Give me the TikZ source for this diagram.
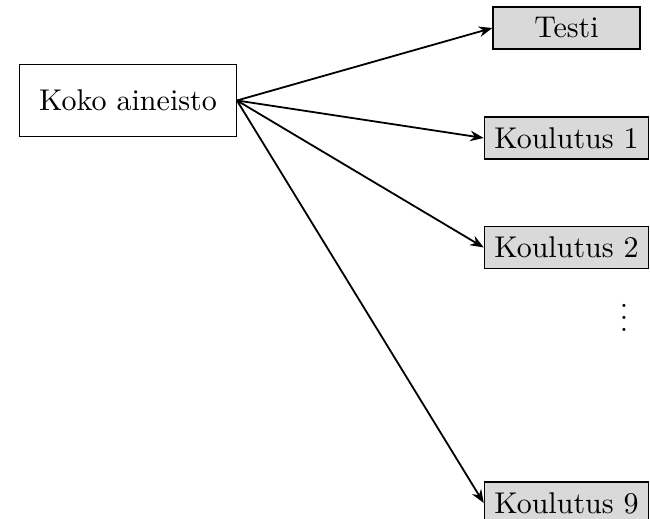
\documentclass[tikz,border=0pt]{standalone}
\usetikzlibrary{arrows.meta}
\begin{document}
\begin{tikzpicture}[x=1pt,y=1pt,
  srcbox/.style={draw, fill=white, inner xsep=6.5pt, inner ysep=8.5pt},
  setbox/.style={draw, fill=black!15, inner sep=3.33pt, minimum height=14pt},
  link/.style={semithick, -{Stealth[length=4.5pt,width=3.5pt]}}]
\useasboundingbox (0,0) rectangle (216.67,-173);
\node[srcbox] (all) at (42.67,-33.5) {Koko aineisto};
\node[setbox, minimum width=49pt] (test) at (188.83,-9.33) {Testi};
\node[setbox] (k1) at (188.83,-46) {Koulutus 1};
\node[setbox] (k2) at (188.83,-82.5) {Koulutus 2};
\node[setbox] (k9) at (188.83,-167.67) {Koulutus 9};
\node[inner sep=0pt] (dots) at (208,-103) {$\vdots$};
\draw[link] (all.east) -- (test.west);
\draw[link] (all.east) -- (k1.west);
\draw[link] (all.east) -- (k2.west);
\draw[link] (all.east) -- (k9.west);
\end{tikzpicture}
\end{document}
